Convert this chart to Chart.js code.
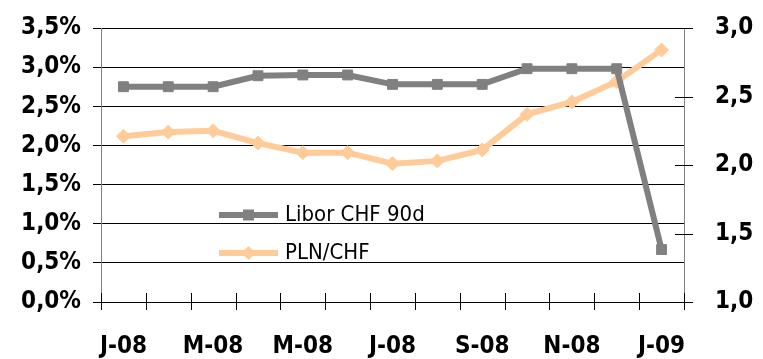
<!DOCTYPE html>
<html><head><meta charset="utf-8">
<script src="https://cdn.jsdelivr.net/npm/chart.js@4"></script>
<style>html,body{margin:0;padding:0;background:#fff}#w{width:763px;height:359px;position:relative}</style>
</head><body><div id="w"><canvas id="c" width="763" height="359"></canvas></div>
<script>
const categories = ['J-08','F-08','M-08','A-08','M-08','J-08','J-08','A-08','S-08','O-08','N-08','D-08','J-09'];
const shownLabels = [0,2,4,6,8,10,12];
const liborValues = [2.75,2.75,2.75,2.89,2.90,2.90,2.78,2.78,2.78,2.98,2.98,2.98,0.67];
const plnChfValues = [2.21,2.24,2.25,2.16,2.09,2.09,2.01,2.03,2.11,2.37,2.46,2.61,2.84];
const leftTicks = [0,0.5,1,1.5,2,2.5,3,3.5];
const rightTicks = [1.0,1.5,2.0,2.5,3.0];
const seriesNames = ['Libor CHF 90d','PLN/CHF'];

const FONT = "'DejaVu Sans Condensed','DejaVu Sans',sans-serif";
const GRAY = '#808080', PEACH = '#FFCC99';

const crossTicks = {
  id:'crossTicks',
  afterDraw(chart){
    const ctx = chart.ctx, a = chart.chartArea;
    const yr = chart.scales.y2;
    ctx.save();
    ctx.lineWidth = 1;
    ctx.strokeStyle = '#000';
    const n = categories.length, w = (a.right - a.left)/n;
    for(let i=0;i<=n;i++){
      const px = Math.round(a.left + i*w) + 0.5;
      ctx.beginPath(); ctx.moveTo(px, a.bottom-9); ctx.lineTo(px, a.bottom+8); ctx.stroke();
    }
    rightTicks.forEach(v=>{
      const py = Math.round(yr.getPixelForValue(v)) + 0.5;
      ctx.beginPath(); ctx.moveTo(a.right-9, py); ctx.lineTo(a.right+9, py); ctx.stroke();
    });
    const items = [
      {name:seriesNames[0], color:GRAY, style:'rect', y:a.top+187},
      {name:seriesNames[1], color:PEACH, style:'diamond', y:a.top+225}
    ];
    items.forEach(it=>{
      const x0 = a.left+118, x1 = a.left+177, xm = (x0+x1)/2;
      ctx.strokeStyle = it.color; ctx.lineWidth = 6;
      ctx.beginPath(); ctx.moveTo(x0,it.y); ctx.lineTo(x1,it.y); ctx.stroke();
      ctx.fillStyle = it.color;
      ctx.beginPath();
      if(it.style==='rect'){ ctx.rect(xm-5.5,it.y-5.5,11,11); }
      else { ctx.moveTo(xm,it.y-7); ctx.lineTo(xm+7,it.y); ctx.lineTo(xm,it.y+7); ctx.lineTo(xm-7,it.y); ctx.closePath(); }
      ctx.fill();
      ctx.fillStyle = '#000'; ctx.font = "22px "+FONT; ctx.textBaseline='middle'; ctx.textAlign='left';
      ctx.fillText(it.name, x1+7, it.y);
    });
    ctx.restore();
  }
};

function zeroPad(s){ s.paddingTop = 0; s.paddingBottom = 0; }

new Chart(document.getElementById('c'), {
  type:'line',
  data:{
    labels: categories,
    datasets:[
      {label:seriesNames[0], data:liborValues, yAxisID:'y', borderColor:GRAY, backgroundColor:GRAY,
       borderWidth:6, pointStyle:'rect', pointRadius:7, pointBorderWidth:1, pointHoverRadius:7, tension:0},
      {label:seriesNames[1], data:plnChfValues, yAxisID:'y2', borderColor:PEACH, backgroundColor:PEACH,
       borderWidth:6, pointStyle:'rectRot', pointRadius:7, pointBorderWidth:1, pointHoverRadius:7, tension:0}
    ]
  },
  options:{
    responsive:false, animation:false, devicePixelRatio:1,
    layout:{padding:{left:0,right:0,top:28,bottom:0}},
    plugins:{legend:{display:false}, tooltip:{enabled:false}},
    scales:{
      x:{
        offset:true,
        grid:{offset:true, drawOnChartArea:false, drawTicks:false, color:'#000'},
        border:{color:'#000', width:1},
        ticks:{autoSkip:false, maxRotation:0, padding:30, color:'#000', font:{family:FONT, size:24, weight:'bold'},
          callback:(v,i)=> shownLabels.includes(i) ? categories[i] : ''},
        afterFit(s){ s.height = 57; s.paddingLeft = 0; s.paddingRight = 0; }
      },
      y:{
        position:'left', min:0, max:3.5,
        afterBuildTicks(s){ s.ticks = leftTicks.map(v=>({value:v})); },
        grid:{color:'#000', lineWidth:1, tickLength:8},
        border:{color:GRAY, width:1},
        ticks:{padding:12, color:'#000', font:{family:FONT, size:24, weight:'bold'},
          callback:v=> v.toFixed(1).replace('.',',')+'%'},
        afterFit(s){ s.width = 101; zeroPad(s); }
      },
      y2:{
        position:'right', min:1, max:3,
        afterBuildTicks(s){ s.ticks = rightTicks.map(v=>({value:v})); },
        grid:{drawOnChartArea:false, drawTicks:false},
        border:{color:GRAY, width:1},
        ticks:{padding:31, color:'#000', font:{family:FONT, size:24, weight:'bold'},
          callback:v=> v.toFixed(1).replace('.',',')},
        afterFit(s){ s.width = 79; zeroPad(s); }
      }
    }
  },
  plugins:[crossTicks]
});
</script></body></html>
